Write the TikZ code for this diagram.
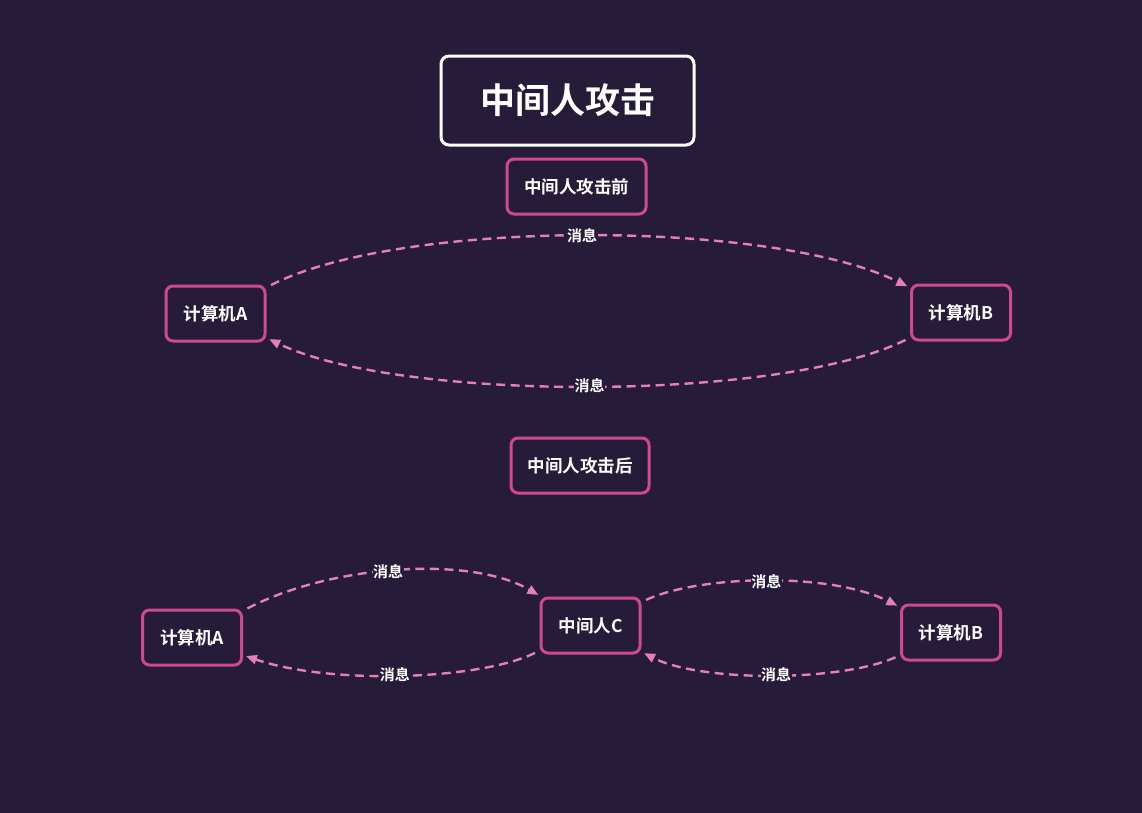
\documentclass[tikz,border=0pt]{standalone}
\usepackage{fontspec}
\setmainfont{Noto Sans CJK SC}[BoldFont={Noto Sans CJK SC Bold}]
\usetikzlibrary{arrows.meta}
\definecolor{bg}{HTML}{261C3A}
\definecolor{pinkb}{HTML}{CF4A8C}
\definecolor{arrowc}{HTML}{E57FB7}
\tikzset{
  box/.style={draw=pinkb, line width=3pt, rounded corners=7pt, text=white,
    font=\bfseries\fontsize{17.5}{19}\selectfont, minimum width=#1, minimum height=55pt, inner sep=0pt},
  box/.default=99pt,
  titlebox/.style={draw=white, line width=3pt, rounded corners=8pt, text=white,
    font=\bfseries\fontsize{35}{40}\selectfont, minimum width=253pt, minimum height=89pt, inner sep=0pt},
  msg/.style={draw=arrowc, line width=2.4pt, dash pattern=on 9pt off 5.5pt,
    -{Triangle[length=11pt,width=9pt]}, shorten >=3pt, shorten <=5pt},
  lbl/.style={fill=bg, text=white, inner sep=0.5pt, font=\bfseries\fontsize{15}{16}\selectfont}
}
\begin{document}
\begin{tikzpicture}[x=1pt,y=-1pt]
\useasboundingbox (0,0) rectangle (1142,812);
\fill[bg] (-2,-2) rectangle (1144,814);

\node[titlebox] (title) at (567.5,100.5) {中间人攻击};
\node[box=139pt] (before) at (576.5,186.5) {中间人攻击前};
\node[box] (A1) at (215.5,313.5) {计算机A};
\node[box] (B1) at (961,312.5) {计算机B};
\node[box=138pt] (after) at (580,465.5) {中间人攻击后};
\node[box] (A2) at (192,637.5) {计算机A};
\node[box] (C) at (590.5,625.5) {中间人C};
\node[box] (B2) at (951,632.5) {计算机B};

\draw[msg] (A1) .. controls (400,219) and (770,219) .. node[lbl,pos=0.495] {消息} (B1);
\draw[msg] (B1) .. controls (780,402) and (400,402) .. node[lbl,pos=0.5] {消息} (A1);

\draw[msg] (A2) .. controls (330,565) and (470,555) .. node[lbl,pos=0.47] {消息} (C);
\draw[msg] (C) .. controls (480,680) and (330,685) .. node[lbl,pos=0.52] {消息} (A2);
\draw[msg] (C) .. controls (700,575) and (830,572) .. node[lbl,pos=0.5] {消息} (B2);
\draw[msg] (B2) .. controls (840,682) and (700,682) .. node[lbl,pos=0.48] {消息} (C);
\end{tikzpicture}
\end{document}
